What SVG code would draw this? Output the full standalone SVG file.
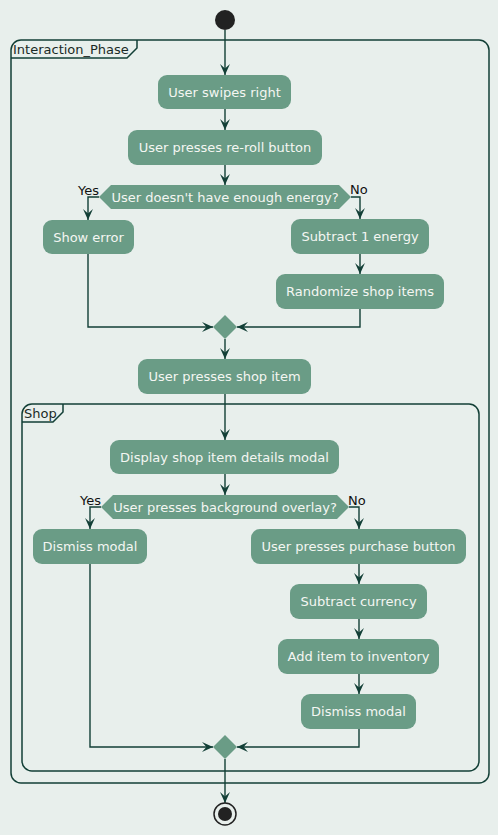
<svg xmlns="http://www.w3.org/2000/svg" width="498" height="835" viewBox="0 0 498 835">
<defs>
<style>
.bg{fill:#e8efec}
.node rect,.node polygon{fill:#6a9c86;stroke:none}
.node text{font-family:"DejaVu Sans","Liberation Sans",sans-serif;font-size:13px;fill:#f4f6f2;text-anchor:middle}
.conn path{fill:none;stroke:#123f36;stroke-width:1.4}
.frame rect,.frame path{fill:none;stroke:#123f36;stroke-width:1.5}
.frame text{font-family:"DejaVu Sans","Liberation Sans",sans-serif;font-size:13px;fill:#1a2a26}
.lbl{font-family:"DejaVu Sans","Liberation Sans",sans-serif;font-size:13px;fill:#111}
</style>
<marker id="ah" viewBox="0 0 10 10" refX="10" refY="5" markerWidth="11" markerHeight="11" markerUnits="userSpaceOnUse" orient="auto">
<path d="M0,0.5 L10,5 L0,9.5 L4,5 Z" fill="#123f36"/>
</marker>
</defs>
<rect class="bg" x="0" y="0" width="498" height="835"/>

<g id="frame-interaction" class="frame">
<rect x="11" y="40" width="478" height="743" rx="10"/>
<path d="M11,58 H127 L137,48 V40"/>
<text x="13" y="54">Interaction_Phase</text>
</g>
<g id="frame-shop" class="frame">
<rect x="22" y="404" width="457" height="367" rx="10"/>
<path d="M22,422 H53 L63,412 V404"/>
<text x="24" y="418">Shop</text>
</g>

<g id="connectors" class="conn">
<path d="M225,30 V75" marker-end="url(#ah)"/>
<path d="M225,109 V130" marker-end="url(#ah)"/>
<path d="M225,165 V185" marker-end="url(#ah)"/>
<path d="M99,197 H88 V220" marker-end="url(#ah)"/>
<path d="M351,197 H360 V219" marker-end="url(#ah)"/>
<path d="M360,254 V274" marker-end="url(#ah)"/>
<path d="M360,309 V327 H237" marker-end="url(#ah)"/>
<path d="M88,254 V327 H213" marker-end="url(#ah)"/>
<path d="M225,339 V359" marker-end="url(#ah)"/>
<path d="M225,394 V440" marker-end="url(#ah)"/>
<path d="M225,474 V495" marker-end="url(#ah)"/>
<path d="M101,507 H90 V529" marker-end="url(#ah)"/>
<path d="M349,507 H359 V529" marker-end="url(#ah)"/>
<path d="M359,564 V584" marker-end="url(#ah)"/>
<path d="M359,619 V639" marker-end="url(#ah)"/>
<path d="M359,674 V694" marker-end="url(#ah)"/>
<path d="M359,729 V747 H237" marker-end="url(#ah)"/>
<path d="M90,564 V747 H213" marker-end="url(#ah)"/>
<path d="M225,759 V803" marker-end="url(#ah)"/>
</g>
<text class="lbl" x="99" y="195" text-anchor="end">Yes</text>
<text class="lbl" x="350" y="194">No</text>
<text class="lbl" x="101" y="505" text-anchor="end">Yes</text>
<text class="lbl" x="348" y="505">No</text>

<g id="start"><circle cx="225" cy="20" r="10" fill="#222"/></g>

<g id="n-swipe" class="node"><rect x="158" y="75" width="133" height="34" rx="9"/><text x="224.5" y="97">User swipes right</text></g>
<g id="n-reroll" class="node"><rect x="128" y="130" width="194" height="35" rx="9"/><text x="225" y="152">User presses re-roll button</text></g>
<g id="d-energy" class="node"><polygon points="99,197 111,185 339,185 351,197 339,209 111,209"/><text x="225" y="201.5">User doesn't have enough energy?</text></g>
<g id="n-error" class="node"><rect x="43" y="220" width="91" height="34" rx="9"/><text x="88.5" y="242">Show error</text></g>
<g id="n-subenergy" class="node"><rect x="291" y="219" width="138" height="35" rx="9"/><text x="360" y="241">Subtract 1 energy</text></g>
<g id="n-randomize" class="node"><rect x="276" y="274" width="168" height="35" rx="9"/><text x="360" y="296">Randomize shop items</text></g>
<g id="m-1" class="node"><polygon points="225,315 237,327 225,339 213,327"/></g>
<g id="n-shopitem" class="node"><rect x="138" y="359" width="173" height="35" rx="9"/><text x="224.5" y="381">User presses shop item</text></g>
<g id="n-display" class="node"><rect x="110" y="440" width="229" height="34" rx="9"/><text x="224.5" y="462">Display shop item details modal</text></g>
<g id="d-overlay" class="node"><polygon points="101,507 113,495 337,495 349,507 337,519 113,519"/><text x="225" y="511.5">User presses background overlay?</text></g>
<g id="n-dismiss1" class="node"><rect x="33" y="529" width="114" height="35" rx="9"/><text x="90" y="551">Dismiss modal</text></g>
<g id="n-purchase" class="node"><rect x="251" y="529" width="215" height="35" rx="9"/><text x="358.5" y="551">User presses purchase button</text></g>
<g id="n-subcur" class="node"><rect x="290" y="584" width="137" height="35" rx="9"/><text x="358.5" y="606">Subtract currency</text></g>
<g id="n-additem" class="node"><rect x="278" y="639" width="161" height="35" rx="9"/><text x="358.5" y="661">Add item to inventory</text></g>
<g id="n-dismiss2" class="node"><rect x="301" y="694" width="115" height="35" rx="9"/><text x="358.5" y="716">Dismiss modal</text></g>
<g id="m-2" class="node"><polygon points="225,735 237,747 225,759 213,747"/></g>

<g id="end"><circle cx="225" cy="814" r="11" fill="none" stroke="#222" stroke-width="1.5"/><circle cx="225" cy="814" r="7" fill="#222"/></g>
</svg>
